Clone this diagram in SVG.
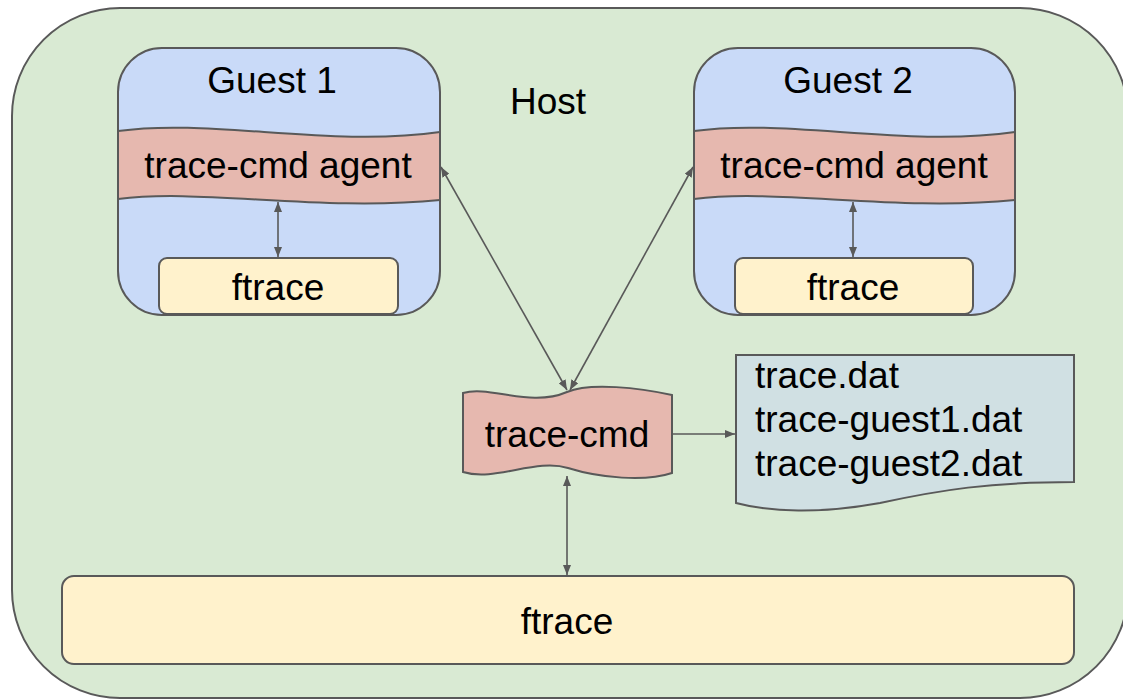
<svg xmlns="http://www.w3.org/2000/svg" width="1123" height="700" viewBox="0 0 1123 700">
<style>
.ln{stroke:#595959;stroke-width:2;fill:none}
.t{font-family:"Liberation Sans",Arial,sans-serif;font-size:37px;fill:#000}
.m{text-anchor:middle}
.c{stroke:#595959;stroke-width:1.6;fill:none}
</style>
<defs>
<marker id="ah" viewBox="0 0 10 8" refX="10" refY="4" markerWidth="10" markerHeight="8" markerUnits="userSpaceOnUse" orient="auto-start-reverse">
<path d="M0,0 L10,4 L0,8 z" fill="#595959"/>
</marker>
</defs>
<rect width="1123" height="700" fill="#ffffff"/>
<g id="host">
<rect x="12" y="8" width="1116" height="690" rx="108" ry="108" fill="#d9ead3" stroke="#595959" stroke-width="2"/>
<text class="t m" x="548" y="114">Host</text>
</g>
<g id="guest1">
<rect x="118" y="48" width="322" height="267" rx="44" fill="#c9daf8"/>
<path d="M118,131 C210,118 330,148 440,132 L440,200 C320,212 200,188 118,199 Z" fill="#e6b8af"/>
<path class="ln" d="M118,131 C210,118 330,148 440,132"/>
<path class="ln" d="M118,199 C200,188 320,212 440,200"/>
<rect x="118" y="48" width="322" height="267" rx="44" class="ln"/>
<text class="t m" x="272" y="93">Guest 1</text>
<text class="t m" x="278" y="178">trace-cmd agent</text>
</g>
<g id="ftrace1">
<rect x="159" y="258" width="239" height="56" rx="8" fill="#fff2cc" stroke="#595959" stroke-width="2"/>
<text class="t m" x="278" y="300">ftrace</text>
</g>
<g id="guest2">
<rect x="694" y="48" width="321" height="267" rx="44" fill="#c9daf8"/>
<path d="M694,131 C786,118 906,148 1015,132 L1015,200 C896,212 776,188 694,199 Z" fill="#e6b8af"/>
<path class="ln" d="M694,131 C786,118 906,148 1015,132"/>
<path class="ln" d="M694,199 C776,188 896,212 1015,200"/>
<rect x="694" y="48" width="321" height="267" rx="44" class="ln"/>
<text class="t m" x="848" y="93">Guest 2</text>
<text class="t m" x="854" y="178">trace-cmd agent</text>
</g>
<g id="ftrace2">
<rect x="735" y="258" width="238" height="56" rx="8" fill="#fff2cc" stroke="#595959" stroke-width="2"/>
<text class="t m" x="853" y="300">ftrace</text>
</g>
<g id="tracecmd">
<path d="M463,393 C490,385 530,408 567,392 C590,382 640,388 672,395 L672,473 C645,482 600,478 568,468 C536,458 495,482 463,472 Z" fill="#e6b8af" stroke="#595959" stroke-width="2"/>
<text class="t m" x="567" y="447">trace-cmd</text>
</g>
<g id="files">
<path d="M736,355 L1074,355 L1074,482 C990,482 940,490 880,503 C820,514 770,512 736,503 Z" fill="#d0e0e3" stroke="#595959" stroke-width="2"/>
<text class="t" x="755" y="388">trace.dat</text>
<text class="t" x="755" y="432">trace-guest1.dat</text>
<text class="t" x="755" y="476">trace-guest2.dat</text>
</g>
<g id="ftrace-host">
<rect x="62" y="576" width="1012" height="88" rx="12" fill="#fff2cc" stroke="#595959" stroke-width="2"/>
<text class="t m" x="567" y="634">ftrace</text>
</g>
<g id="connectors">
<line class="c" x1="278" y1="202" x2="278" y2="257" marker-start="url(#ah)" marker-end="url(#ah)"/>
<line class="c" x1="853" y1="202" x2="853" y2="257" marker-start="url(#ah)" marker-end="url(#ah)"/>
<line class="c" x1="441" y1="167" x2="567" y2="390" marker-start="url(#ah)" marker-end="url(#ah)"/>
<line class="c" x1="693" y1="167" x2="570" y2="390" marker-start="url(#ah)" marker-end="url(#ah)"/>
<line class="c" x1="672" y1="434" x2="735" y2="434" marker-end="url(#ah)"/>
<line class="c" x1="567" y1="476" x2="567" y2="575" marker-start="url(#ah)" marker-end="url(#ah)"/>
</g>
</svg>
